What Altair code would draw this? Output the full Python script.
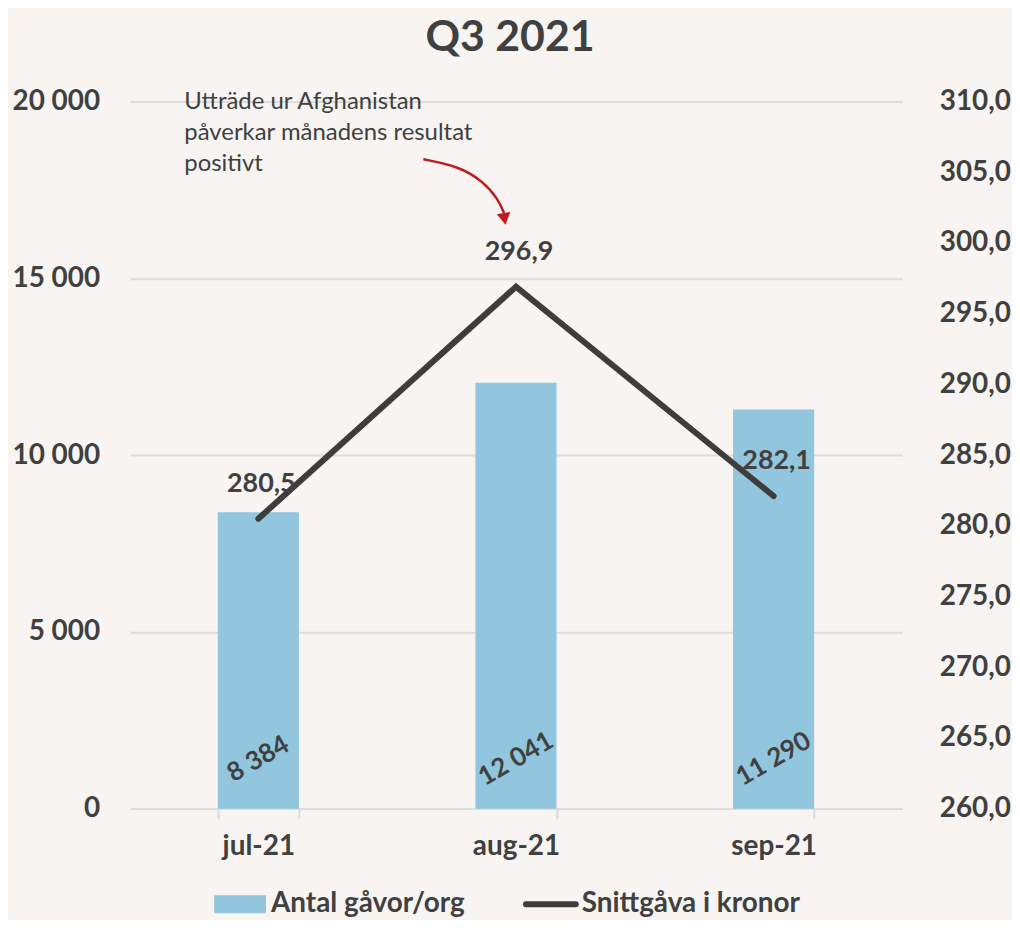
import altair as alt
import pandas as pd

# ---------------- data ----------------
months = ["jul-21", "aug-21", "sep-21"]
gifts = [8384, 12041, 11290]          # Antal gåvor/org (left axis)
avg_gift = [280.5, 296.9, 282.1]      # Snittgåva i kronor (right axis)
left_ticks = [0, 5000, 10000, 15000, 20000]
right_ticks = [260, 265, 270, 275, 280, 285, 290, 295, 300, 305, 310]
annotation_lines = ["Utträde ur Afghanistan", "påverkar månadens resultat", "positivt"]
legend_labels = ["Antal gåvor/org", "Snittgåva i kronor"]
title_text = "Q3 2021"

# arrow path for the annotation (pixel space, decoration only)
arrow_px = [295, 330, 355, 370, 376]
arrow_py = [58, 65, 80, 98, 112]

gift_labels = [f"{v:,}".replace(",", " ") for v in gifts]
avg_labels = [f"{v:.1f}".replace(".", ",") for v in avg_gift]

df = pd.DataFrame({
    "month": months,
    "gifts": gifts,
    "avg": avg_gift,
    "gift_label": gift_labels,
    "avg_label": avg_labels,
})
arrow_df = pd.DataFrame({"px": arrow_px, "py": arrow_py, "o": list(range(len(arrow_px)))})
ann_df = pd.DataFrame({"t": [annotation_lines]})
title_df = pd.DataFrame({"t": [title_text]})
leg_df = pd.DataFrame({"label": legend_labels})

# ---------------- styles ----------------
FONT = "Lato"
TXT = "#404040"
BAR = "#92C6DF"
LINE = "#3D3D3D"
GRID = "#DEDCDA"
RED = "#C0191F"
BG = "#F7F4F1"

x = alt.X(
    "month:N",
    sort=months,
    scale=alt.Scale(paddingInner=0.685, paddingOuter=0.3425),
    axis=alt.Axis(
        title=None, labelAngle=0, labelFontSize=28, labelFont=FONT,
        labelFontWeight="bold", labelColor=TXT, labelPadding=14,
        tickBand="extent", tickSize=10, tickColor=GRID, tickWidth=2,
        domainColor=GRID, domainWidth=2, grid=False,
    ),
)

y_left = alt.Y(
    "gifts:Q",
    scale=alt.Scale(domain=[0, 20000], nice=False),
    axis=alt.Axis(
        title=None, values=left_ticks, orient="left",
        labelExpr="replace(format(datum.value, ','), ',', ' ')",
        labelFontSize=28, labelFont=FONT, labelFontWeight="bold", labelColor=TXT,
        labelPadding=30, ticks=False, domain=False,
        grid=True, gridColor=GRID, gridWidth=2,
    ),
)

y_right = alt.Y(
    "avg:Q",
    scale=alt.Scale(domain=[260, 310], nice=False, zero=False),
    axis=alt.Axis(
        title=None, values=right_ticks, orient="right",
        labelExpr="replace(format(datum.value, '.1f'), '.', ',')",
        labelFontSize=28, labelFont=FONT, labelFontWeight="bold", labelColor=TXT,
        labelPadding=37, labelAlign="left", ticks=False, domain=False, grid=False,
    ),
)

base = alt.Chart(df)

bars = base.mark_bar(color=BAR).encode(x=x, y=y_left)
bar_text = base.mark_text(
    angle=330, fontSize=26, font=FONT, fontWeight="bold", color=TXT,
    align="center", baseline="middle",
).encode(x=x, y=alt.datum(1400), text="gift_label:N")

line = base.mark_line(
    color=LINE, strokeWidth=6, strokeCap="round", strokeJoin="miter"
).encode(x=x, y=y_right)
line_text = base.mark_text(
    fontSize=27, font=FONT, fontWeight="bold", color=TXT,
    dy=-35, dx=3, align="center", baseline="middle",
).encode(x=x, y=alt.Y("avg:Q"), text="avg_label:N")

# title (as text mark, centred over the chart)
title_mark = alt.Chart(title_df).mark_text(
    fontSize=43, font=FONT, fontWeight="bold", color=TXT,
    align="center", baseline="middle",
).encode(x=alt.value(382), y=alt.value(-64), text="t:N")

# annotation
ann_text = alt.Chart(ann_df).mark_text(
    fontSize=24, font=FONT, color=TXT, align="left", baseline="alphabetic",
    lineHeight=31,
).encode(x=alt.value(55), y=alt.value(8), text="t")

arrow = alt.Chart(arrow_df).mark_line(
    color=RED, strokeWidth=2.5, interpolate="basis"
).encode(
    x=alt.X("px:Q", scale=None, axis=None),
    y=alt.Y("py:Q", scale=None, axis=None),
    order="o:Q",
)
arrow_head = alt.Chart(title_df).mark_point(
    shape="triangle-down", filled=True, color=RED, size=190, angle=350, opacity=1,
).encode(x=alt.value(376.5), y=alt.value(118))

# manual legend (decoration)
leg_rect = alt.Chart(leg_df).transform_filter(
    alt.datum.label == legend_labels[0]
).mark_rect(color=BAR).encode(
    x=alt.value(85), x2=alt.value(137), y=alt.value(797), y2=alt.value(815)
)
leg_text1 = alt.Chart(leg_df).transform_filter(
    alt.datum.label == legend_labels[0]
).mark_text(
    fontSize=28, font=FONT, fontWeight="bold", color=TXT, align="left", baseline="middle"
).encode(x=alt.value(142), y=alt.value(806), text="label:N")
leg_line = alt.Chart(leg_df).transform_filter(
    alt.datum.label == legend_labels[1]
).mark_rule(color=LINE, strokeWidth=6, strokeCap="round").encode(
    x=alt.value(398), x2=alt.value(448), y=alt.value(806)
)
leg_text2 = alt.Chart(leg_df).transform_filter(
    alt.datum.label == legend_labels[1]
).mark_text(
    fontSize=28, font=FONT, fontWeight="bold", color=TXT, align="left", baseline="middle"
).encode(x=alt.value(454), y=alt.value(806), text="label:N")

left_layer = alt.layer(bars, bar_text, title_mark, ann_text, arrow, arrow_head,
                       leg_rect, leg_text1, leg_line, leg_text2)
right_layer = alt.layer(line, line_text)

chart = alt.layer(left_layer, right_layer).resolve_scale(
    y="independent"
).properties(
    width=776,
    height=710,
    autosize=alt.AutoSizeParams(type="none"),
    padding={"left": 122, "top": 92, "right": 110, "bottom": 110},
    background=BG,
).configure(font=FONT).configure_view(stroke=None, strokeWidth=0)

chart.save("out.html", embed_options={"renderer": "svg", "actions": False})
